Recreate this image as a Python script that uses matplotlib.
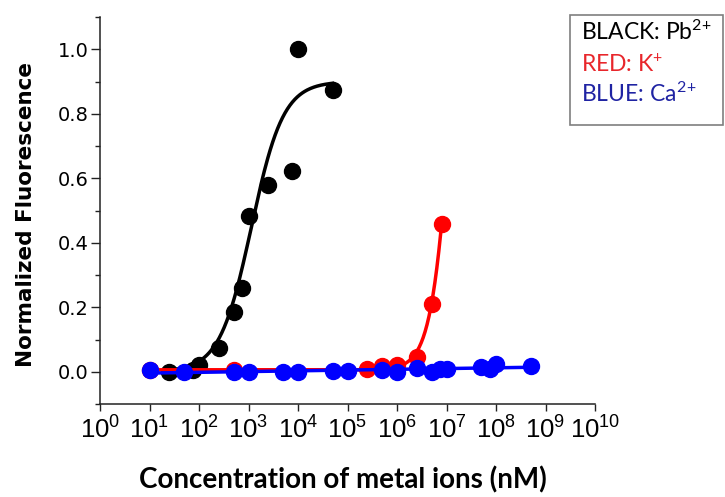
import matplotlib
matplotlib.use("Agg")
import matplotlib.pyplot as plt
import numpy as np
from matplotlib import font_manager
from matplotlib.patches import Rectangle
from matplotlib.ticker import FixedLocator, NullLocator, MultipleLocator

# Pb2+ response (black)
pb_conc = [25, 75, 100, 250, 500, 750, 1000, 2500, 7500, 10000, 50000]
pb_signal = [0.0, 0.005, 0.022, 0.075, 0.186, 0.26, 0.483, 0.578, 0.622, 1.0, 0.875]

# K+ response (red)
k_conc = [10, 500, 2.5e5, 5e5, 1e6, 2.5e6, 5e6, 8e6]
k_signal = [0.005, 0.006, 0.009, 0.018, 0.022, 0.047, 0.21, 0.457]

# Ca2+ response (blue)
ca_conc = [10, 50, 500, 1e3, 5e3, 1e4, 5e4, 1e5, 5e5, 1e6, 2.5e6, 5e6,
           7.5e6, 1e7, 5e7, 7.5e7, 1e8, 5e8]
ca_signal = [0.004, 0.0, 0.0, 0.0, 0.0, 0.0, 0.002, 0.001, 0.005, 0.0, 0.011, 0.0,
             0.01, 0.01, 0.015, 0.01, 0.025, 0.017]

# logistic fit parameters
pb_fit = {"bottom": 0.0, "top": 0.9, "x0": 10 ** 3.06, "p": 1.35}
k_fit = {"bottom": 0.006, "top": 2.0, "x0": 1.47e7, "p": 2.0}

decades = list(range(0, 11))
y_ticks = [0.0, 0.2, 0.4, 0.6, 0.8, 1.0]


def first_font(names):
    for name in names:
        try:
            font_manager.findfont(name, fallback_to_default=False)
            return name
        except ValueError:
            continue
    return "DejaVu Sans"


def logistic(x, bottom, top, x0, p):
    return bottom + (top - bottom) / (1 + (x0 / x) ** p)


narrow = first_font(["Liberation Sans Narrow", "Liberation Sans"])
humanist = first_font(["Lato", "Open Sans"])

plt.rcParams["mathtext.default"] = "regular"

fig = plt.figure(figsize=(7.25, 4.97), dpi=100)
ax = fig.add_axes([100 / 725, 1 - 404 / 497, 495 / 725, 387 / 497])

# fitted curves
x_pb = np.logspace(np.log10(pb_conc[0]), np.log10(pb_conc[-1]), 200)
ax.plot(x_pb, logistic(x_pb, **pb_fit), color="black", lw=2.5, zorder=2)
ax.plot(pb_conc, pb_signal, "o", color="black", ms=11.5, zorder=2.1)

x_k = np.logspace(np.log10(k_conc[0]), np.log10(k_conc[-1]), 300)
ax.plot(x_k, logistic(x_k, **k_fit), color="#ff0000", lw=2.5, zorder=3)
ax.plot(k_conc, k_signal, "o", color="#ff0000", ms=11.5, zorder=3.1)

slope, intercept = np.polyfit(np.log10(ca_conc), ca_signal, 1)
x_ca = np.logspace(np.log10(ca_conc[0]), np.log10(ca_conc[-1]), 50)
ax.plot(x_ca, intercept + slope * np.log10(x_ca), color="#0000ff", lw=2.5, zorder=4)
ax.plot(ca_conc, ca_signal, "o", color="#0000ff", ms=11.5, zorder=4.1)

ax.set_xscale("log")
ax.set_xlim(1, 1e10)
ax.set_ylim(-0.1, 1.1)

ax.xaxis.set_major_locator(FixedLocator([10.0 ** d for d in decades]))
ax.xaxis.set_minor_locator(NullLocator())
ax.set_xticklabels([f"$10^{{{d}}}$" for d in decades], fontfamily=narrow, fontsize=18.5)

ax.yaxis.set_major_locator(FixedLocator(y_ticks))
ax.yaxis.set_minor_locator(MultipleLocator(0.1))
ax.set_yticklabels([f"{v:.1f}" for v in y_ticks], fontfamily="DejaVu Sans", fontsize=14)

for side in ["top", "right"]:
    ax.spines[side].set_visible(False)
for side in ["left", "bottom"]:
    ax.spines[side].set_linewidth(1.1)
    ax.spines[side].set_color("#222222")

ax.tick_params(axis="x", which="major", direction="out", length=5, width=1, pad=4, color="#222222")
ax.tick_params(axis="y", which="major", direction="out", length=6.5, width=1, pad=1.5, color="#222222")
ax.tick_params(axis="y", which="minor", direction="out", length=3.6, width=1, color="#222222")

ax.set_xlabel("Concentration of metal ions (nM)", fontfamily=humanist,
              fontweight="bold", fontsize=20)
ax.xaxis.set_label_coords(0.49, -0.196)
ax.xaxis.label.set_va("center")

ax.set_ylabel("Normalized Fluorescence", fontfamily="DejaVu Sans",
              fontweight="bold", fontsize=15.5)
ax.yaxis.set_label_coords(-0.149, 0.49)
ax.yaxis.label.set_va("center")

# legend box drawn as text on the figure
fig.patches.append(Rectangle((570 / 725, 1 - 125 / 497), 153 / 725, 110 / 497,
                             transform=fig.transFigure, facecolor="white",
                             edgecolor="#7f7f7f", lw=1.2))
legend_rows = [
    ("BLACK: Pb$^{2}$$^{+}$", "black", 40),
    ("RED: K$^{+}$", "#e8262b", 72),
    ("BLUE: Ca$^{2}$$^{+}$", "#1f23a3", 102),
]
for label, color, baseline in legend_rows:
    fig.text(581 / 725, 1 - baseline / 497, label, color=color,
             fontfamily=humanist, fontsize=16.5, va="baseline", ha="left")

fig.savefig("out.png", dpi=100)
